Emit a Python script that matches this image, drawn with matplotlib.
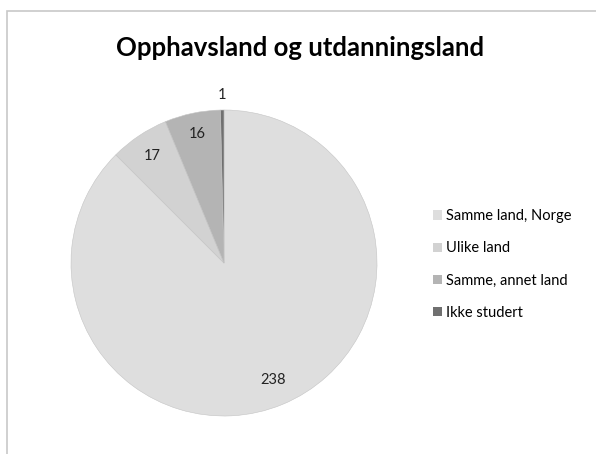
import numpy as np
import matplotlib.pyplot as plt
from matplotlib.patches import Rectangle

categories = ["Samme land, Norge", "Ulike land", "Samme, annet land", "Ikke studert"]
counts = [238, 17, 16, 1]
colors = ["#dedede", "#d2d2d2", "#b4b4b4", "#707070"]

fig = plt.figure(figsize=(5.96, 4.54), dpi=100)
fig.patch.set_facecolor("white")

# chart frame (left/top edges visible, the rest runs off the canvas)
fig.add_artist(Rectangle((7 / 596, -0.1), 1.2, (454 - 11) / 454 + 0.1,
                         transform=fig.transFigure, fill=False,
                         edgecolor="#c8c8c8", linewidth=1.2))

fig.text(0.503, 0.895, "Opphavsland og utdanningsland", ha="center", va="center",
         fontsize=18.5, fontweight="bold", family="Lato")

ax = fig.add_axes([(224 - 153) / 596, (454 - 263 - 153) / 454, 306 / 596, 306 / 454])
wedges, _ = ax.pie(counts, colors=colors, startangle=90, counterclock=False,
                   wedgeprops=dict(edgecolor="#c4c4c4", linewidth=0.4))
ax.set_xlim(-1, 1)
ax.set_ylim(-1, 1)
ax.set_aspect("equal")

# data labels placed along each slice's bisector
total = sum(counts)
label_r = [0.83, 0.84, 0.86, 1.1]
start = 90.0
for val, r in zip(counts, label_r):
    span = 360.0 * val / total
    mid = np.deg2rad(start - span / 2)
    ax.text(r * np.cos(mid), r * np.sin(mid), str(val), ha="center", va="center",
            fontsize=10.5, family="Lato", color="#222222", clip_on=False)
    start -= span

handles = [Rectangle((0, 0), 1, 1, facecolor=c, edgecolor="none") for c in colors]
fig.legend(handles, categories, loc="upper left", bbox_to_anchor=(0.705, 0.568),
           frameon=False, prop=dict(family="Lato", size=10.5), handlelength=0.6,
           handleheight=0.6, handletextpad=0.3, labelspacing=1.25)

fig.savefig("out.png", dpi=100)
